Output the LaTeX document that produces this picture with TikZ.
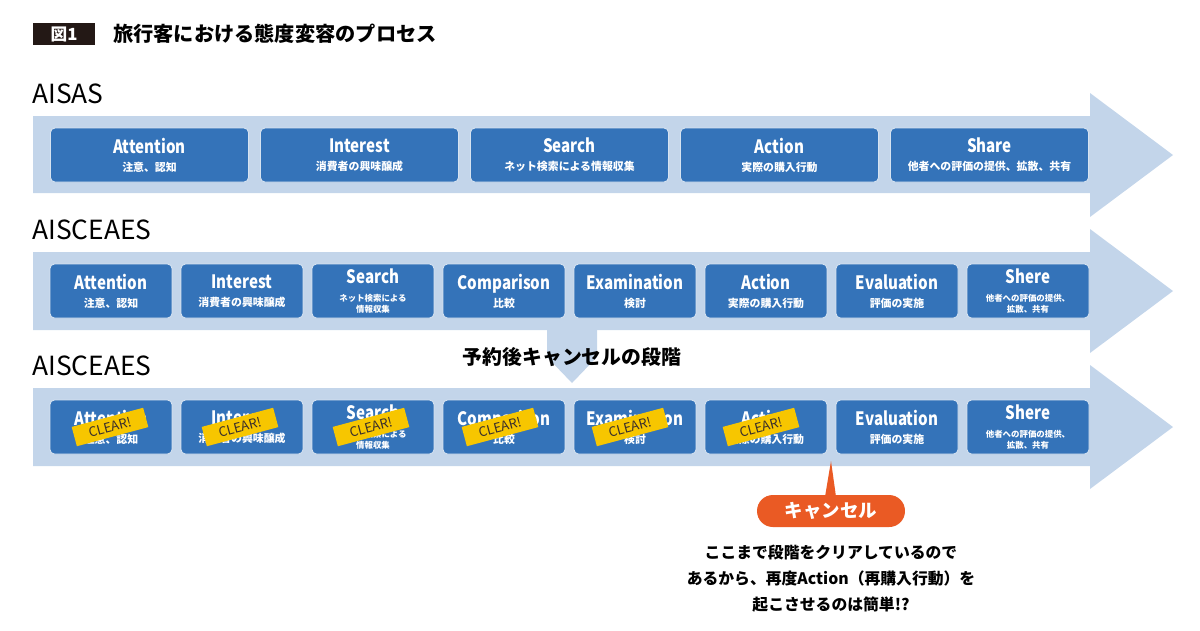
\documentclass[tikz,border=0pt]{standalone}
\usepackage{fontspec}
\setmainfont{Noto Sans CJK JP}
\newfontfamily\condfont{Noto Sans CJK JP}[FakeStretch=0.82]
\usetikzlibrary{positioning, calc}

\definecolor{bandblue}{RGB}{195,213,234}
\definecolor{boxblue}{RGB}{52,115,185}
\definecolor{clearyellow}{RGB}{247,198,0}
\definecolor{cancelred}{RGB}{234,90,36}
\definecolor{titleblack}{RGB}{35,24,21}

% label of a stage box: title and one or two small lines
\newcommand{\stage}[2]{{\condfont\fontsize{10.5}{11}\selectfont\bfseries #1}\\[-1.8pt]{\fontsize{6.2}{8}\selectfont\bfseries #2}}
\newcommand{\stagesmall}[3]{{\condfont\fontsize{10.5}{11}\selectfont\bfseries #1}\\[-2pt]{\fontsize{4.8}{6}\selectfont\bfseries #2}\\[-5.8pt]{\fontsize{4.8}{6}\selectfont\bfseries #3}}

\begin{document}
\begin{tikzpicture}[
  x=0.02cm, y=-0.02cm,
  band/.style={fill=bandblue},
  stagebox/.style={draw=white!80!boxblue, fill=boxblue, rounded corners=2.5pt, text=white,
    align=center, minimum height=1.08cm, inner sep=0pt, line width=0.5pt},
  widebox/.style={stagebox, minimum width=3.96cm},
  narrowbox/.style={stagebox, minimum width=2.44cm},
  sticker/.style={fill=clearyellow, rotate=15, minimum width=1.48cm, minimum height=0.4cm,
    inner sep=0pt, text=titleblack!90, font=\fontsize{7.5}{8}\selectfont},
  rowlabel/.style={anchor=base west, inner sep=0pt, font=\fontsize{15}{16}\selectfont}
]
\useasboundingbox (0,0) rectangle (1200,630);

% Heading
\node[fill=titleblack, text=white, minimum width=1.24cm, minimum height=0.44cm, inner sep=0pt,
  font=\fontsize{9.5}{10}\selectfont\bfseries] (fig) at (64,34) {図1};
\node[anchor=west, inner sep=0pt, font=\fontsize{11.5}{13}\selectfont\bfseries] (title) at (113,34)
  {旅行客における態度変容のプロセス};

% Row 1: AISAS
\node[rowlabel] (lab1) at (32,103) {AISAS};
\fill[band] (33,116) -- (1090,116) -- (1090,93) -- (1173,155) -- (1090,217) -- (1090,193) -- (33,193) -- cycle;
\node[widebox] (a1) at (149.5,155) {\stage{Attention}{注意、認知}};
\node[widebox] (a2) at (359.5,155) {\stage{Interest}{消費者の興味醸成}};
\node[widebox] (a3) at (569.5,155) {\stage{Search}{ネット検索による情報収集}};
\node[widebox] (a4) at (779.5,155) {\stage{Action}{実際の購入行動}};
\node[widebox] (a5) at (989.5,155) {\stage{Share}{他者への評価の提供、拡散、共有}};

% Row 2: AISCEAES
\node[rowlabel] (lab2) at (32,239) {AISCEAES};
\fill[band] (33,252) -- (1090,252) -- (1090,229) -- (1173,291) -- (1090,353) -- (1090,330) -- (33,330) -- cycle;
\node[narrowbox] (b1) at (111,291) {\stage{Attention}{注意、認知}};
\node[narrowbox] (b2) at (242,291) {\stage{Interest}{消費者の興味醸成}};
\node[narrowbox] (b3) at (373,291) {\stagesmall{Search}{ネット検索による}{情報収集}};
\node[narrowbox] (b4) at (504,291) {\stage{Comparison}{比較}};
\node[narrowbox] (b5) at (635,291) {\stage{Examination}{検討}};
\node[narrowbox] (b6) at (766,291) {\stage{Action}{実際の購入行動}};
\node[narrowbox] (b7) at (897,291) {\stage{Evaluation}{評価の実施}};
\node[narrowbox] (b8) at (1028,291) {\stagesmall{Shere}{他者への評価の提供、}{拡散、共有}};

% Down arrow into row 3
\fill[band] (547,329) -- (597,329) -- (597,357) -- (572,383) -- (547,357) -- cycle;
\node[inner sep=0pt, font=\fontsize{11.3}{13}\selectfont\bfseries] (phase) at (572,357) {予約後キャンセルの段階};

% Row 3: AISCEAES with cleared stages
\node[rowlabel] (lab3) at (32,375) {AISCEAES};
\fill[band] (33,388) -- (1090,388) -- (1090,365) -- (1173,427) -- (1090,489) -- (1090,466) -- (33,466) -- cycle;
\node[narrowbox] (c1) at (111,427) {\stage{Attention}{注意、認知}};
\node[narrowbox] (c2) at (242,427) {\stage{Interest}{消費者の興味醸成}};
\node[narrowbox] (c3) at (373,427) {\stagesmall{Search}{ネット検索による}{情報収集}};
\node[narrowbox] (c4) at (504,427) {\stage{Comparison}{比較}};
\node[narrowbox] (c5) at (635,427) {\stage{Examination}{検討}};
\node[narrowbox] (c6) at (766,427) {\stage{Action}{実際の購入行動}};
\node[narrowbox] (c7) at (897,427) {\stage{Evaluation}{評価の実施}};
\node[narrowbox] (c8) at (1028,427) {\stagesmall{Shere}{他者への評価の提供、}{拡散、共有}};

% CLEAR! stickers
\node[sticker] (s1) at (110,427) {CLEAR!};
\node[sticker] (s2) at (240,427) {CLEAR!};
\node[sticker] (s3) at (371,427) {CLEAR!};
\node[sticker] (s4) at (500,427) {CLEAR!};
\node[sticker] (s5) at (630,427) {CLEAR!};
\node[sticker] (s6) at (761,427) {CLEAR!};

% Cancel callout
\coordinate (tip) at (831,461);
\node[fill=cancelred, text=white, rounded corners=9pt, minimum width=2.96cm, minimum height=0.64cm,
  inner sep=0pt, font=\fontsize{10.5}{12}\selectfont\bfseries] (cancel) at (831,511) {キャンセル};
\fill[cancelred] ($(cancel.north)+(-6,2)$) -- (tip) -- ($(cancel.north)+(5,2)$) -- cycle;
\node[below=0.34cm of cancel, align=center, inner sep=0pt,
  font=\fontsize{9}{15}\selectfont\bfseries] (note)
  {ここまで段階をクリアしているので\\あるから、再度Action（再購入行動）を\\起こさせるのは簡単!?};

\end{tikzpicture}
\end{document}
